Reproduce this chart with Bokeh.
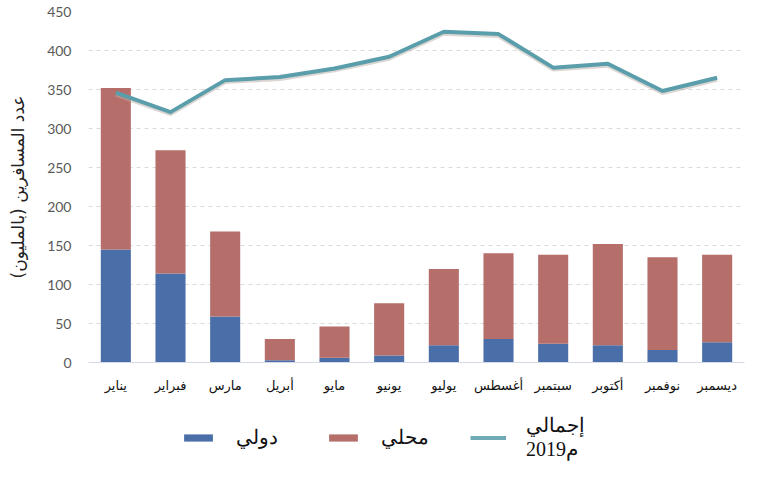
from bokeh.plotting import figure
from bokeh.layouts import column
from bokeh.models import ColumnDataSource, FactorRange, Legend, LegendItem, FixedTicker, BoxAnnotation
from bokeh.embed import file_html
from bokeh.resources import INLINE

months = ["يناير", "فبراير", "مارس", "أبريل", "مايو", "يونيو",
          "يوليو", "أغسطس", "سبتمبر", "أكتوبر", "نوفمبر", "ديسمبر"]
international = [145, 114, 59, 3, 6, 9, 22, 30, 24, 22, 16, 26]
domestic = [207, 158, 109, 27, 40, 67, 98, 110, 114, 130, 119, 112]
total_2019 = [346, 321, 362, 366, 377, 392, 424, 421, 378, 383, 348, 365]
y_ticks = [0, 50, 100, 150, 200, 250, 300, 350, 400, 450]
series_names = ["دولي", "محلي", "إجمالي\n\u202d2019م\u202c"]
y_title = "عدد المسافرين (بالمليون)\u200f"
colors = ["#4a6fa8", "#b56e69", "#5b9eab"]

shadow = [v - 2.5 for v in total_2019]
src = ColumnDataSource(dict(months=months, intl=international, dom=domestic,
                            total=total_2019, shadow=shadow))

p = figure(width=755, height=400, x_range=FactorRange(*months, range_padding=0),
           y_range=(0, 450), output_backend="svg", toolbar_location=None,
           min_border_left=88, min_border_right=11, min_border_top=11, min_border_bottom=38)
p.outline_line_color = None

bars = p.vbar_stack(["intl", "dom"], x="months", width=0.55, source=src,
                    color=colors[:2], line_color=None)
p.line("months", "shadow", source=src, line_width=4, line_color="#b9aea8", line_alpha=0.5)
ln = p.line("months", "total", source=src, line_width=4, line_color=colors[2], line_join="round")

# white area behind the (cut-off) title
p.add_layout(BoxAnnotation(left=1.35, right=10.2, bottom=440, top=470, fill_color="white",
                           fill_alpha=1, line_color=None, level="glyph"))

p.xgrid.grid_line_color = None
p.ygrid.grid_line_color = "#d9d9d9"
p.ygrid.grid_line_dash = "4 4"
p.ygrid.ticker = FixedTicker(ticks=y_ticks)

p.yaxis.ticker = FixedTicker(ticks=y_ticks)
p.yaxis.axis_line_color = None
p.yaxis.major_tick_line_color = None
p.yaxis.minor_tick_line_color = None
p.yaxis.major_label_text_font = "Lato"
p.yaxis.major_label_text_font_size = "14px"
p.yaxis.major_label_text_color = "#595959"
p.yaxis.major_label_standoff = 11
p.yaxis.axis_label = y_title
p.yaxis.axis_label_text_font = "DejaVu Sans"
p.yaxis.axis_label_text_font_size = "17px"
p.yaxis.axis_label_text_font_style = "normal"
p.yaxis.axis_label_text_color = "#222222"
p.yaxis.axis_label_standoff = 16

p.xaxis.axis_line_color = "#d3dae6"
p.xaxis.major_tick_line_color = None
p.xaxis.minor_tick_line_color = None
p.xaxis.major_label_text_font = "DejaVu Sans"
p.xaxis.major_label_text_font_size = "13px"
p.xaxis.major_label_text_color = "#111111"
p.xaxis.major_label_standoff = 9

# legend strip
lf = figure(width=755, height=69, x_range=(0, 1), y_range=(0, 1), output_backend="svg",
            toolbar_location=None, x_axis_location=None, y_axis_location=None,
            min_border=0)
lf.outline_line_color = None
lf.grid.grid_line_color = None
dummy = ColumnDataSource(dict(x=[-5, -4], y=[-5, -4]))
r1 = lf.vbar(x="x", top="y", width=0.1, source=dummy, color=colors[0], line_color=None)
r2 = lf.vbar(x="x", top="y", width=0.1, source=dummy, color=colors[1], line_color=None)
r3 = lf.line(x="x", y="y", source=dummy, line_width=4, line_color="#6eabb6")

legend = Legend(items=[LegendItem(label=series_names[0], renderers=[r1]),
                       LegendItem(label=series_names[1], renderers=[r2]),
                       LegendItem(label=series_names[2], renderers=[r3])],
                orientation="horizontal", location=(92, 8),
                glyph_width=36, glyph_height=9, label_standoff=20, spacing=37,
                label_width=52, padding=0, margin=0,
                border_line_color=None, background_fill_alpha=0,
                label_text_font="Liberation Serif", label_text_font_size="20px",
                label_text_color="#111111")
lf.add_layout(legend, "center")

layout = column(p, lf, spacing=0)
open("out.html", "w").write(file_html(layout, INLINE))
